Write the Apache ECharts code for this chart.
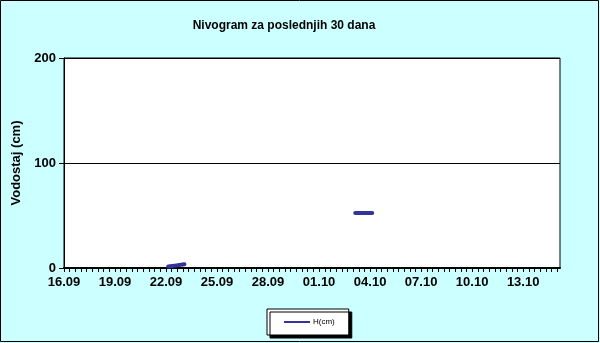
<!DOCTYPE html>
<html>
<head>
<meta charset="utf-8">
<script src="https://cdn.jsdelivr.net/npm/echarts@6/dist/echarts.min.js"></script>
<style>
html,body{margin:0;padding:0;background:#CCFFFF;}
#chart{width:600px;height:343px;}
</style>
</head>
<body>
<div id="chart"></div>
<script>
// x unit: hours since 16.09 00:00
const tickLabels = ['16.09','19.09','22.09','25.09','28.09','01.10','04.10','07.10','10.10','13.10'];
const hours = [147, 153, 159, 165, 170, 290, 411, 417, 423, 429, 435];
const levels = [1.5, 2, 2.5, 3, 3.5, null, 52.5, 52.5, 52.5, 52.5, 52.5];
const seriesName = 'H(cm)';
const titleText = 'Nivogram za poslednjih 30 dana';
const yName = 'Vodostaj (cm)';

const data = hours.map((h, i) => [h, levels[i] === null ? '-' : levels[i]]);
const FONT = 'Liberation Sans, Arial, sans-serif';

const chart = echarts.init(document.getElementById('chart'));
chart.setOption({
  backgroundColor: '#CCFFFF',
  animation: false,
  title: {
    text: titleText,
    left: 279, top: 15, textAlign: 'center',
    textStyle: {fontFamily: FONT, fontWeight: 'bold', fontSize: 12, color: '#000'}
  },
  grid: {
    left: 64, right: 40, top: 58, bottom: 75,
    show: true, backgroundColor: '#fff', borderColor: '#000', borderWidth: 1
  },
  legend: {
    left: 267, top: 309,
    padding: [9, 14, 9, 17],
    backgroundColor: '#fff', borderColor: '#000', borderWidth: 1,
    shadowColor: '#000', shadowBlur: 0, shadowOffsetX: 3, shadowOffsetY: 3,
    icon: 'rect', itemWidth: 26, itemHeight: 2, itemGap: 0,
    textStyle: {fontFamily: FONT, fontSize: 8, color: '#000', padding: [0, 0, 0, -2]},
    data: [seriesName]
  },
  xAxis: {
    type: 'value', min: 0, max: 700, interval: 8,
    axisLine: {show: true, lineStyle: {color: '#000', width: 2}},
    axisTick: {show: true, length: 4, lineStyle: {color: '#000', width: 1}},
    splitLine: {show: false},
    axisLabel: {
      fontFamily: FONT, fontWeight: 'bold', fontSize: 13, color: '#000', margin: 8,
      showMaxLabel: false,
      formatter: v => (v % 72 === 0 && tickLabels[v / 72] !== undefined) ? tickLabels[v / 72] : ''
    }
  },
  yAxis: {
    type: 'value', min: 0, max: 200, interval: 100,
    name: yName, nameLocation: 'middle', nameRotate: 90, nameGap: 40,
    nameTextStyle: {fontFamily: FONT, fontWeight: 'bold', fontSize: 13, color: '#000'},
    axisLine: {show: true, lineStyle: {color: '#000', width: 1}},
    axisTick: {show: true, length: 5, lineStyle: {color: '#000'}},
    splitLine: {show: true, lineStyle: {color: '#000', width: 1}},
    axisLabel: {fontFamily: FONT, fontWeight: 'bold', fontSize: 13, color: '#000', margin: 8}
  },
  series: [{
    name: seriesName, type: 'line', data: data,
    showSymbol: false, symbol: 'none', connectNulls: false,
    itemStyle: {color: '#333399'},
    lineStyle: {color: '#333399', width: 4, cap: 'round', join: 'round'}
  }],
  graphic: [{
    type: 'rect', shape: {x: 0.5, y: 0.5, width: 598, height: 341},
    style: {fill: null, stroke: '#000', lineWidth: 1}, silent: true
  }]
});
</script>
</body>
</html>
